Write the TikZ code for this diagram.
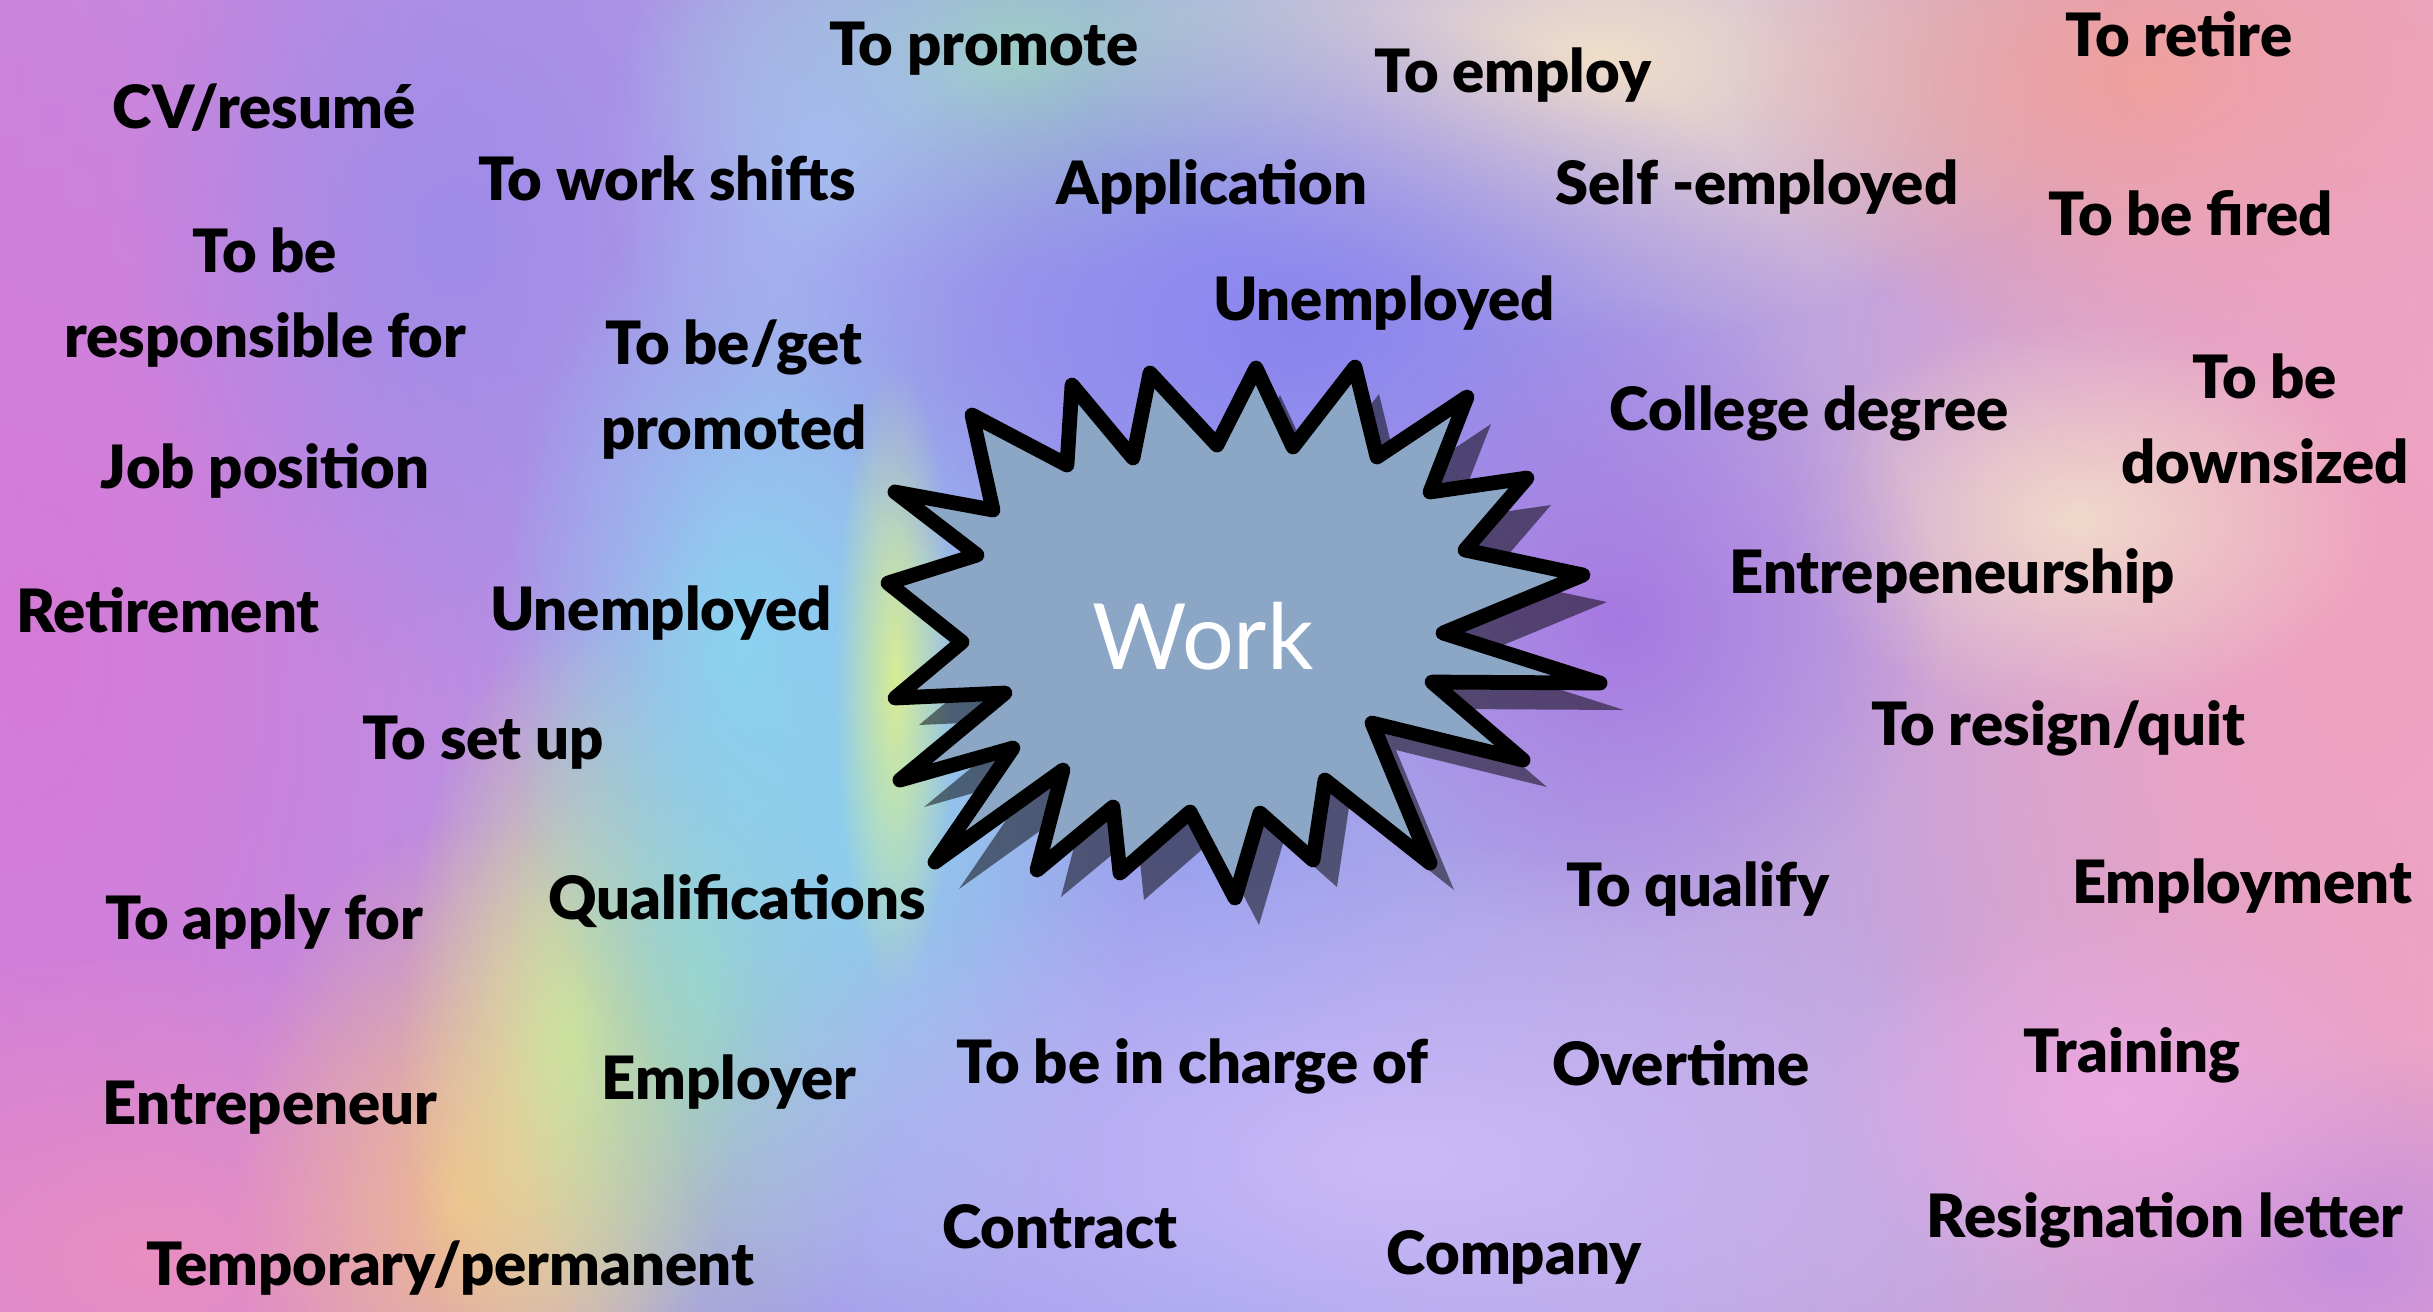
\documentclass[tikz,border=0pt]{standalone}
\usepackage{fontspec}
\usetikzlibrary{fadings}
\newfontfamily\wordfont{Lato}[BoldFont={Lato Black}]

\definecolor{bgleft}{HTML}{C888DE}
\definecolor{bgmid}{HTML}{9AA2EE}
\definecolor{bgright}{HTML}{E8A6CC}
\definecolor{burstfill}{HTML}{8CA7C6}

\tikzfading[name=blob, inner color=transparent!5, outer color=transparent!100]

\tikzset{
  word/.style={font=\wordfont\bfseries\fontsize{17}{24}\selectfont, anchor=base, inner sep=0pt, align=center},
  burst/.style={fill=burstfill, draw=black, line width=4.2pt, line join=round, line cap=round},
  burstshadow/.style={fill=black, opacity=0.5}
}

% outline of the star, clockwise from the upper left point
\def\burstoutline{(972,415) -- (1067,465) -- (1072,385) -- (1133,458) -- (1150,373) -- (1217,445)
  -- (1256,368) -- (1293,447) -- (1355,367) -- (1377,457) -- (1467,397) -- (1430,492)
  -- (1527,478) -- (1465,550) -- (1583,575) -- (1443,633) -- (1600,683) -- (1432,682)
  -- (1523,760) -- (1372,723) -- (1430,863) -- (1325,780) -- (1313,860) -- (1260,813)
  -- (1235,898) -- (1190,812) -- (1120,873) -- (1113,807) -- (1037,870) -- (1063,770)
  -- (935,862) -- (1013,748) -- (900,780) -- (1005,693) -- (895,698) -- (962,642)
  -- (888,583) -- (977,555) -- (895,492) -- (993,510) -- cycle}

\begin{document}
\begin{tikzpicture}[x=0.1mm, y=-0.1mm]
  \useasboundingbox (0,0) rectangle (2433,1311);
  \clip (0,0) rectangle (2433,1311);

  % Background wash
  \shade[left color=bgleft, right color=bgright, middle color=bgmid] (0,0) rectangle (2433,1311);
  \foreach \cx/\cy/\rx/\ry/\col in {
    40/650/520/950/D67AD8,
    150/1260/520/320/EC8EC0,
    450/240/320/460/9C8CEA,
    460/1200/230/380/F2BE8A,
    570/1040/170/420/E2EA92,
    700/980/200/440/A2DAB4,
    880/820/260/560/8ED2EE,
    740/640/240/460/8AD4F2,
    895/680/60/320/DCEE90,
    1000/60/380/220/9ED2C2,
    820/160/220/260/A4BCF2,
    1600/60/520/280/F4E2C8,
    2150/80/420/280/F2A08E,
    2350/620/520/900/F0A2BE,
    2080/520/300/200/F2DCCA,
    1300/330/520/320/8A82EE,
    1620/620/320/320/A676E2,
    1400/1160/720/320/CEBAF8,
    2350/1260/320/220/C48EE0,
    2120/1100/300/200/ECA8E2
  } {
    \definecolor{blobcol}{HTML}{\col}
    \fill[blobcol, path fading=blob] (\cx,\cy) ellipse ({\rx} and {\ry});
  }

  % Star with its shadow
  \fill[burstshadow, shift={(24,27)}] \burstoutline;
  \draw[burst] \burstoutline;
  \node[font=\wordfont\fontsize{26}{30}\selectfont, text=white] (work) at (1203,636) {Work};

  % Single line words
  \foreach \txt/\x/\y/\nm in {
    To promote/984/65/promote,
    To employ/1513/92/employ,
    To retire/2179/56/retire,
    {CV/resumé}/264/128/cv,
    To work shifts/667/200/shifts,
    Application/1212/204/application,
    Self -employed/1757/204/selfemployed,
    To be fired/2191/235/fired,
    Unemployed/1384/320/unemployedtop,
    College degree/1809/430/degree,
    Job position/265/488/job,
    Entrepeneurship/1952/593/entrepeneurship,
    Retirement/168/632/retirement,
    Unemployed/661/630/unemployedleft,
    {To resign/quit}/2058/745/resign,
    To set up/483/759/setup,
    To qualify/1698/906/qualify,
    Employment/2242/903/employment,
    To apply for/264/939/apply,
    Qualifications/737/919/qualifications,
    Training/2132/1072/training,
    To be in charge of/1192/1083/charge,
    Overtime/1681/1085/overtime,
    Employer/729/1099/employer,
    Entrepeneur/270/1124/entrepeneur,
    Resignation letter/2165/1237/resignation,
    Contract/1060/1248/contract,
    Company/1514/1274/company,
    {Temporary/permanent}/450/1285/temporary
  } {
    \node[word] (\nm) at (\x,\y) {\txt};
  }

  % Two line words (base is the second line)
  \node[word] (responsible) at (265,357) {To be\\responsible for};
  \node[word] (promoted) at (734,449) {To be/get\\promoted};
  \node[word] (downsized) at (2265,483) {To be\\downsized};
\end{tikzpicture}
\end{document}
